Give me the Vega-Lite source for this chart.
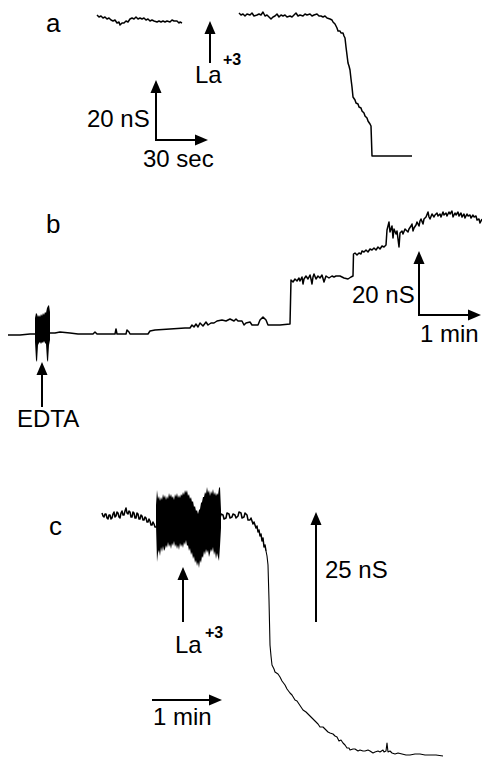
{
  "$schema": "https://vega.github.io/schema/vega-lite/v6.json",
  "width": 482,
  "height": 757,
  "autosize": "none",
  "padding": 0,
  "background": "white",
  "config": {"view": {"stroke": null}},
  "datasets": {
    "trace": [
      {"s":"a1","x":97,"y":15},{"s":"a1","x":99,"y":17},{"s":"a1","x":101,"y":16},{"s":"a1","x":103,"y":18},{"s":"a1","x":105,"y":17},{"s":"a1","x":107,"y":19},{"s":"a1","x":109,"y":18},{"s":"a1","x":111,"y":20},{"s":"a1","x":113,"y":21},{"s":"a1","x":115,"y":20},{"s":"a1","x":117,"y":23},{"s":"a1","x":119,"y":22},{"s":"a1","x":120,"y":25},{"s":"a1","x":122,"y":23},{"s":"a1","x":124,"y":23},{"s":"a1","x":126,"y":21},{"s":"a1","x":128,"y":22},{"s":"a1","x":130,"y":19},{"s":"a1","x":132,"y":18},{"s":"a1","x":134,"y":19},{"s":"a1","x":136,"y":17},{"s":"a1","x":138,"y":19},{"s":"a1","x":140,"y":18},{"s":"a1","x":142,"y":19},{"s":"a1","x":144,"y":18},{"s":"a1","x":146,"y":20},{"s":"a1","x":148,"y":19},{"s":"a1","x":150,"y":21},{"s":"a1","x":152,"y":20},{"s":"a1","x":154,"y":21},{"s":"a1","x":157,"y":22},{"s":"a1","x":159,"y":21},{"s":"a1","x":161,"y":22},{"s":"a1","x":163,"y":21},{"s":"a1","x":165,"y":22},{"s":"a1","x":167,"y":21},{"s":"a1","x":170,"y":22},{"s":"a1","x":172,"y":20},{"s":"a1","x":174,"y":21},{"s":"a1","x":177,"y":21},{"s":"a1","x":179,"y":23},{"s":"a1","x":180,"y":22},{"s":"a1","x":182,"y":23},
      {"s":"a2","x":239,"y":13},{"s":"a2","x":241,"y":15},{"s":"a2","x":243,"y":14},{"s":"a2","x":245,"y":16},{"s":"a2","x":247,"y":14},{"s":"a2","x":250,"y":15},{"s":"a2","x":252,"y":13},{"s":"a2","x":254,"y":16},{"s":"a2","x":257,"y":15},{"s":"a2","x":259,"y":14},{"s":"a2","x":261,"y":15},{"s":"a2","x":263,"y":12},{"s":"a2","x":265,"y":16},{"s":"a2","x":267,"y":15},{"s":"a2","x":269,"y":17},{"s":"a2","x":271,"y":19},{"s":"a2","x":273,"y":17},{"s":"a2","x":275,"y":16},{"s":"a2","x":277,"y":14},{"s":"a2","x":279,"y":17},{"s":"a2","x":281,"y":15},{"s":"a2","x":283,"y":16},{"s":"a2","x":285,"y":15},{"s":"a2","x":287,"y":17},{"s":"a2","x":290,"y":16},{"s":"a2","x":292,"y":17},{"s":"a2","x":294,"y":15},{"s":"a2","x":296,"y":13},{"s":"a2","x":298,"y":16},{"s":"a2","x":300,"y":15},{"s":"a2","x":303,"y":16},{"s":"a2","x":305,"y":14},{"s":"a2","x":307,"y":15},{"s":"a2","x":310,"y":14},{"s":"a2","x":312,"y":16},{"s":"a2","x":314,"y":15},{"s":"a2","x":317,"y":14},{"s":"a2","x":319,"y":16},{"s":"a2","x":321,"y":16},{"s":"a2","x":323,"y":17},{"s":"a2","x":325,"y":16},{"s":"a2","x":327,"y":18},{"s":"a2","x":330,"y":19},{"s":"a2","x":332,"y":20},{"s":"a2","x":333,"y":22},{"s":"a2","x":335,"y":24},{"s":"a2","x":337,"y":28},{"s":"a2","x":338,"y":31},{"s":"a2","x":340,"y":31},{"s":"a2","x":341,"y":33},{"s":"a2","x":343,"y":33},{"s":"a2","x":344,"y":36},{"s":"a2","x":345,"y":38},{"s":"a2","x":346,"y":47},{"s":"a2","x":347,"y":55},{"s":"a2","x":348,"y":63},{"s":"a2","x":349,"y":66},{"s":"a2","x":350,"y":70},{"s":"a2","x":351,"y":79},{"s":"a2","x":352,"y":87},{"s":"a2","x":353,"y":97},{"s":"a2","x":355,"y":100},{"s":"a2","x":356,"y":103},{"s":"a2","x":358,"y":104},{"s":"a2","x":359,"y":107},{"s":"a2","x":361,"y":108},{"s":"a2","x":362,"y":111},{"s":"a2","x":364,"y":113},{"s":"a2","x":365,"y":116},{"s":"a2","x":367,"y":118},{"s":"a2","x":368,"y":121},{"s":"a2","x":370,"y":124},{"s":"a2","x":371,"y":126},{"s":"a2","x":372,"y":156},{"s":"a2","x":390,"y":156},{"s":"a2","x":412,"y":156},
      {"s":"b","x":8,"y":335},{"s":"b","x":20,"y":335},{"s":"b","x":30,"y":334},{"s":"b","x":35,"y":334},{"s":"b","x":50,"y":333},{"s":"b","x":55,"y":333},{"s":"b","x":60,"y":332},{"s":"b","x":70,"y":333},{"s":"b","x":78,"y":334},{"s":"b","x":93,"y":334},{"s":"b","x":95,"y":332},{"s":"b","x":97,"y":334},{"s":"b","x":110,"y":334},{"s":"b","x":115,"y":334},{"s":"b","x":116,"y":329},{"s":"b","x":117,"y":334},{"s":"b","x":126,"y":334},{"s":"b","x":127,"y":330},{"s":"b","x":129,"y":332},{"s":"b","x":130,"y":334},{"s":"b","x":148,"y":334},{"s":"b","x":150,"y":331},{"s":"b","x":155,"y":330},{"s":"b","x":170,"y":329},{"s":"b","x":185,"y":328},{"s":"b","x":190,"y":328},{"s":"b","x":192,"y":325},{"s":"b","x":194,"y":327},{"s":"b","x":196,"y":324},{"s":"b","x":198,"y":327},{"s":"b","x":200,"y":323},{"s":"b","x":203,"y":326},{"s":"b","x":206,"y":322},{"s":"b","x":208,"y":325},{"s":"b","x":211,"y":323},{"s":"b","x":214,"y":323},{"s":"b","x":217,"y":321},{"s":"b","x":222,"y":320},{"s":"b","x":226,"y":321},{"s":"b","x":230,"y":319},{"s":"b","x":234,"y":321},{"s":"b","x":236,"y":319},{"s":"b","x":238,"y":321},{"s":"b","x":242,"y":321},{"s":"b","x":244,"y":325},{"s":"b","x":246,"y":323},{"s":"b","x":250,"y":322},{"s":"b","x":252,"y":325},{"s":"b","x":258,"y":325},{"s":"b","x":260,"y":320},{"s":"b","x":263,"y":317},{"s":"b","x":266,"y":320},{"s":"b","x":268,"y":325},{"s":"b","x":280,"y":325},{"s":"b","x":290,"y":324},{"s":"b","x":291,"y":280},{"s":"b","x":293,"y":282},{"s":"b","x":295,"y":279},{"s":"b","x":297,"y":281},{"s":"b","x":299,"y":278},{"s":"b","x":300,"y":281},{"s":"b","x":302,"y":277},{"s":"b","x":303,"y":284},{"s":"b","x":304,"y":279},{"s":"b","x":306,"y":276},{"s":"b","x":308,"y":279},{"s":"b","x":310,"y":275},{"s":"b","x":311,"y":279},{"s":"b","x":312,"y":284},{"s":"b","x":313,"y":277},{"s":"b","x":314,"y":274},{"s":"b","x":316,"y":279},{"s":"b","x":318,"y":276},{"s":"b","x":320,"y":278},{"s":"b","x":322,"y":275},{"s":"b","x":324,"y":282},{"s":"b","x":326,"y":276},{"s":"b","x":329,"y":278},{"s":"b","x":332,"y":276},{"s":"b","x":334,"y":277},{"s":"b","x":336,"y":276},{"s":"b","x":340,"y":276},{"s":"b","x":344,"y":278},{"s":"b","x":348,"y":279},{"s":"b","x":351,"y":277},{"s":"b","x":353,"y":276},{"s":"b","x":353.5,"y":254},{"s":"b","x":355,"y":253},{"s":"b","x":357,"y":255},{"s":"b","x":359,"y":253},{"s":"b","x":361,"y":254},{"s":"b","x":362,"y":251},{"s":"b","x":364,"y":252},{"s":"b","x":366,"y":250},{"s":"b","x":368,"y":252},{"s":"b","x":370,"y":249},{"s":"b","x":372,"y":250},{"s":"b","x":374,"y":248},{"s":"b","x":376,"y":250},{"s":"b","x":378,"y":247},{"s":"b","x":380,"y":249},{"s":"b","x":382,"y":246},{"s":"b","x":384,"y":247},{"s":"b","x":386,"y":245},{"s":"b","x":387,"y":230},{"s":"b","x":389,"y":222},{"s":"b","x":390,"y":232},{"s":"b","x":392,"y":226},{"s":"b","x":393,"y":238},{"s":"b","x":394,"y":229},{"s":"b","x":396,"y":234},{"s":"b","x":397,"y":231},{"s":"b","x":399,"y":247},{"s":"b","x":400,"y":233},{"s":"b","x":402,"y":231},{"s":"b","x":403,"y":234},{"s":"b","x":405,"y":229},{"s":"b","x":406,"y":230},{"s":"b","x":408,"y":232},{"s":"b","x":409,"y":229},{"s":"b","x":411,"y":226},{"s":"b","x":412,"y":224},{"s":"b","x":413,"y":231},{"s":"b","x":414,"y":228},{"s":"b","x":416,"y":225},{"s":"b","x":417,"y":222},{"s":"b","x":419,"y":226},{"s":"b","x":420,"y":221},{"s":"b","x":421,"y":219},{"s":"b","x":423,"y":224},{"s":"b","x":424,"y":219},{"s":"b","x":426,"y":217},{"s":"b","x":428,"y":212},{"s":"b","x":429,"y":217},{"s":"b","x":430,"y":219},{"s":"b","x":432,"y":214},{"s":"b","x":434,"y":217},{"s":"b","x":435,"y":215},{"s":"b","x":437,"y":213},{"s":"b","x":438,"y":216},{"s":"b","x":440,"y":214},{"s":"b","x":441,"y":217},{"s":"b","x":443,"y":212},{"s":"b","x":444,"y":215},{"s":"b","x":446,"y":213},{"s":"b","x":447,"y":216},{"s":"b","x":449,"y":212},{"s":"b","x":450,"y":214},{"s":"b","x":452,"y":211},{"s":"b","x":453,"y":217},{"s":"b","x":455,"y":213},{"s":"b","x":456,"y":215},{"s":"b","x":458,"y":212},{"s":"b","x":459,"y":216},{"s":"b","x":461,"y":213},{"s":"b","x":462,"y":217},{"s":"b","x":464,"y":214},{"s":"b","x":465,"y":218},{"s":"b","x":467,"y":214},{"s":"b","x":468,"y":216},{"s":"b","x":470,"y":215},{"s":"b","x":471,"y":218},{"s":"b","x":473,"y":215},{"s":"b","x":474,"y":217},{"s":"b","x":476,"y":216},{"s":"b","x":477,"y":220},{"s":"b","x":479,"y":219},{"s":"b","x":480,"y":223},{"s":"b","x":482,"y":219},
      {"s":"c1","x":102,"y":513},{"s":"c1","x":103,"y":516},{"s":"c1","x":104,"y":517},{"s":"c1","x":105,"y":514},{"s":"c1","x":106,"y":514},{"s":"c1","x":107,"y":518},{"s":"c1","x":108,"y":519},{"s":"c1","x":109,"y":515},{"s":"c1","x":110,"y":515},{"s":"c1","x":111,"y":519},{"s":"c1","x":112,"y":518},{"s":"c1","x":113,"y":514},{"s":"c1","x":114,"y":512},{"s":"c1","x":115,"y":517},{"s":"c1","x":116,"y":516},{"s":"c1","x":117,"y":512},{"s":"c1","x":118,"y":513},{"s":"c1","x":119,"y":517},{"s":"c1","x":120,"y":518},{"s":"c1","x":121,"y":513},{"s":"c1","x":122,"y":511},{"s":"c1","x":123,"y":515},{"s":"c1","x":124,"y":515},{"s":"c1","x":125,"y":511},{"s":"c1","x":126,"y":508},{"s":"c1","x":127,"y":513},{"s":"c1","x":128,"y":514},{"s":"c1","x":129,"y":511},{"s":"c1","x":130,"y":512},{"s":"c1","x":131,"y":517},{"s":"c1","x":132,"y":517},{"s":"c1","x":133,"y":512},{"s":"c1","x":134,"y":513},{"s":"c1","x":135,"y":518},{"s":"c1","x":136,"y":518},{"s":"c1","x":137,"y":513},{"s":"c1","x":138,"y":514},{"s":"c1","x":139,"y":519},{"s":"c1","x":140,"y":519},{"s":"c1","x":141,"y":515},{"s":"c1","x":142,"y":516},{"s":"c1","x":143,"y":520},{"s":"c1","x":144,"y":520},{"s":"c1","x":145,"y":517},{"s":"c1","x":146,"y":518},{"s":"c1","x":147,"y":522},{"s":"c1","x":148,"y":522},{"s":"c1","x":149,"y":519},{"s":"c1","x":150,"y":521},{"s":"c1","x":151,"y":525},{"s":"c1","x":152,"y":525},{"s":"c1","x":153,"y":522},{"s":"c1","x":154,"y":524},{"s":"c1","x":155,"y":527},{"s":"c1","x":157,"y":527},
      {"s":"c2","x":220,"y":518},{"s":"c2","x":221,"y":514},{"s":"c2","x":223,"y":515},{"s":"c2","x":224,"y":519},{"s":"c2","x":226,"y":518},{"s":"c2","x":227,"y":513},{"s":"c2","x":229,"y":514},{"s":"c2","x":230,"y":518},{"s":"c2","x":232,"y":517},{"s":"c2","x":233,"y":514},{"s":"c2","x":235,"y":515},{"s":"c2","x":236,"y":518},{"s":"c2","x":238,"y":516},{"s":"c2","x":239,"y":512},{"s":"c2","x":241,"y":513},{"s":"c2","x":242,"y":518},{"s":"c2","x":244,"y":517},{"s":"c2","x":245,"y":513},{"s":"c2","x":247,"y":515},{"s":"c2","x":248,"y":520},{"s":"c2","x":250,"y":520},{"s":"c2","x":251,"y":518},{"s":"c2","x":253,"y":524},{"s":"c2","x":254,"y":522},{"s":"c2","x":256,"y":528},{"s":"c2","x":257,"y":526},{"s":"c2","x":258,"y":532},{"s":"c2","x":259,"y":530},{"s":"c2","x":260,"y":536},{"s":"c2","x":261,"y":534},{"s":"c2","x":262,"y":541},{"s":"c2","x":263,"y":538},{"s":"c2","x":264,"y":547},{"s":"c2","x":265,"y":545},{"s":"c2","x":266,"y":551}
    ],
    "tail": [
      {"x":266,"y":551},{"x":267,"y":556},{"x":268,"y":565},{"x":269,"y":600},{"x":270,"y":645},{"x":271,"y":656},{"x":272,"y":665},{"x":274,"y":669},{"x":275,"y":672},{"x":278,"y":674},{"x":280,"y":677},{"x":282,"y":681},{"x":285,"y":685},{"x":287,"y":689},{"x":290,"y":693},{"x":292,"y":695},{"x":295,"y":700},{"x":297,"y":701},{"x":299,"y":704},{"x":301,"y":707},{"x":303,"y":710},{"x":306,"y":712},{"x":310,"y":716},{"x":312,"y":718},{"x":315,"y":721},{"x":318,"y":724},{"x":320,"y":727},{"x":323,"y":727},{"x":325,"y":729},{"x":328,"y":732},{"x":330,"y":733},{"x":333,"y":734},{"x":335,"y":736},{"x":337,"y":737},{"x":339,"y":741},{"x":341,"y":740},{"x":343,"y":743},{"x":345,"y":745},{"x":347,"y":748},{"x":349,"y":748},{"x":350,"y":750},{"x":353,"y":749},{"x":355,"y":749},{"x":358,"y":751},{"x":360,"y":750},{"x":363,"y":751},{"x":365,"y":751},{"x":368,"y":750},{"x":370,"y":751},{"x":373,"y":753},{"x":375,"y":752},{"x":378,"y":751},{"x":380,"y":752},{"x":383,"y":750},{"x":384,"y":752},{"x":386,"y":751},{"x":387,"y":743},{"x":388,"y":752},{"x":390,"y":751},{"x":392,"y":753},{"x":395,"y":754},{"x":398,"y":753},{"x":402,"y":754},{"x":406,"y":755},{"x":410,"y":755},{"x":415,"y":754},{"x":420,"y":754},{"x":425,"y":755},{"x":430,"y":755},{"x":436,"y":755},{"x":443,"y":756}
    ],
    "burst": [
      {"id":"b","x":35,"top":318,"bot":342},{"id":"b","x":36,"top":313,"bot":360},{"id":"b","x":37,"top":314,"bot":362},{"id":"b","x":38,"top":317,"bot":345},{"id":"b","x":39,"top":315,"bot":343},{"id":"b","x":40,"top":317,"bot":342},{"id":"b","x":41,"top":314,"bot":344},{"id":"b","x":42,"top":316,"bot":342},{"id":"b","x":43,"top":313,"bot":343},{"id":"b","x":44,"top":315,"bot":341},{"id":"b","x":45,"top":312,"bot":343},{"id":"b","x":46,"top":313,"bot":344},{"id":"b","x":47,"top":308,"bot":360},{"id":"b","x":48,"top":306,"bot":362},{"id":"b","x":49,"top":305,"bot":345},{"id":"b","x":50,"top":312,"bot":340},
      {"id":"c","x":156,"top":505,"bot":525},{"id":"c","x":157,"top":490,"bot":562},{"id":"c","x":158,"top":499,"bot":553},{"id":"c","x":159,"top":496,"bot":550},{"id":"c","x":160,"top":501,"bot":556},{"id":"c","x":161,"top":497,"bot":547},{"id":"c","x":162,"top":500,"bot":552},{"id":"c","x":163,"top":494,"bot":546},{"id":"c","x":164,"top":498,"bot":551},{"id":"c","x":165,"top":495,"bot":549},{"id":"c","x":166,"top":500,"bot":545},{"id":"c","x":167,"top":496,"bot":548},{"id":"c","x":168,"top":499,"bot":542},{"id":"c","x":169,"top":493,"bot":547},{"id":"c","x":170,"top":497,"bot":544},{"id":"c","x":171,"top":494,"bot":549},{"id":"c","x":172,"top":498,"bot":543},{"id":"c","x":173,"top":496,"bot":546},{"id":"c","x":174,"top":500,"bot":541},{"id":"c","x":175,"top":494,"bot":547},{"id":"c","x":176,"top":497,"bot":544},{"id":"c","x":177,"top":493,"bot":549},{"id":"c","x":178,"top":498,"bot":545},{"id":"c","x":179,"top":495,"bot":550},{"id":"c","x":180,"top":498,"bot":543},{"id":"c","x":181,"top":494,"bot":547},{"id":"c","x":182,"top":496,"bot":544},{"id":"c","x":183,"top":492,"bot":548},{"id":"c","x":184,"top":495,"bot":542},{"id":"c","x":185,"top":490,"bot":545},{"id":"c","x":186,"top":493,"bot":540},{"id":"c","x":187,"top":490,"bot":546},{"id":"c","x":188,"top":496,"bot":545},{"id":"c","x":189,"top":494,"bot":551},{"id":"c","x":190,"top":499,"bot":548},{"id":"c","x":191,"top":497,"bot":555},{"id":"c","x":192,"top":502,"bot":552},{"id":"c","x":193,"top":501,"bot":559},{"id":"c","x":194,"top":507,"bot":556},{"id":"c","x":195,"top":506,"bot":563},{"id":"c","x":196,"top":511,"bot":560},{"id":"c","x":197,"top":510,"bot":566},{"id":"c","x":198,"top":514,"bot":562},{"id":"c","x":199,"top":510,"bot":568},{"id":"c","x":200,"top":509,"bot":560},{"id":"c","x":201,"top":503,"bot":563},{"id":"c","x":202,"top":502,"bot":556},{"id":"c","x":203,"top":497,"bot":558},{"id":"c","x":204,"top":497,"bot":551},{"id":"c","x":205,"top":492,"bot":555},{"id":"c","x":206,"top":494,"bot":549},{"id":"c","x":207,"top":487,"bot":553},{"id":"c","x":208,"top":493,"bot":550},{"id":"c","x":209,"top":490,"bot":557},{"id":"c","x":210,"top":496,"bot":553},{"id":"c","x":211,"top":491,"bot":549},{"id":"c","x":212,"top":494,"bot":552},{"id":"c","x":213,"top":489,"bot":547},{"id":"c","x":214,"top":495,"bot":555},{"id":"c","x":215,"top":492,"bot":551},{"id":"c","x":216,"top":496,"bot":559},{"id":"c","x":217,"top":493,"bot":553},{"id":"c","x":218,"top":495,"bot":557},{"id":"c","x":219,"top":488,"bot":561},{"id":"c","x":220,"top":487,"bot":546},{"id":"c","x":221,"top":510,"bot":528}
    ],
    "shafts": [
      {"x":210,"y":63,"x2":210,"y2":30},
      {"x":156,"y":141,"x2":156,"y2":88},
      {"x":155,"y":140,"x2":199,"y2":140},
      {"x":419,"y":316,"x2":419,"y2":260},
      {"x":418,"y":315,"x2":472,"y2":315},
      {"x":42,"y":407,"x2":42,"y2":370},
      {"x":183,"y":622,"x2":183,"y2":576},
      {"x":316,"y":622,"x2":316,"y2":521},
      {"x":152,"y":700,"x2":213,"y2":700}
    ],
    "heads": [
      {"dir":"up","x":210,"y":21},
      {"dir":"up","x":156,"y":80},
      {"dir":"right","x":208,"y":140},
      {"dir":"up","x":419,"y":251},
      {"dir":"right","x":481,"y":315},
      {"dir":"up","x":42,"y":362},
      {"dir":"up","x":183,"y":567},
      {"dir":"up","x":316,"y":512},
      {"dir":"right","x":222,"y":700}
    ],
    "labels": [
      {"t":"20 nS","x":87,"y":127},
      {"t":"30 sec","x":143,"y":167},
      {"t":"La","x":195,"y":83},
      {"t":"20 nS","x":352,"y":303},
      {"t":"1 min","x":420,"y":342},
      {"t":"EDTA","x":17,"y":427},
      {"t":"La","x":175,"y":653},
      {"t":"25 nS","x":325,"y":578},
      {"t":"1 min","x":153,"y":725}
    ],
    "sup": [
      {"t":"+3","x":223,"y":65},
      {"t":"+3","x":205,"y":638}
    ],
    "panels": [
      {"t":"a","x":46,"y":32},
      {"t":"b","x":46,"y":233},
      {"t":"c","x":49,"y":535}
    ]
  },
  "encoding": {
    "x": {"field":"x","type":"quantitative","scale":{"domain":[0,482],"nice":false,"zero":false},"axis":null},
    "y": {"field":"y","type":"quantitative","scale":{"domain":[0,757],"reverse":true,"nice":false,"zero":false},"axis":null}
  },
  "layer": [
    {
      "data": {"name":"burst"},
      "mark": {"type":"area","color":"black","opacity":1,"interpolate":"linear"},
      "encoding": {
        "y": {"field":"top","type":"quantitative","scale":{"domain":[0,757],"reverse":true,"nice":false,"zero":false},"axis":null},
        "y2": {"field":"bot"},
        "detail": {"field":"id"}
      }
    },
    {
      "data": {"name":"trace"},
      "mark": {"type":"line","color":"black","strokeWidth":1.5,"strokeJoin":"round"},
      "encoding": {"detail": {"field":"s"}}
    },
    {
      "data": {"name":"tail"},
      "mark": {"type":"line","color":"black","strokeWidth":1.1,"strokeJoin":"round"},
      "encoding": {}
    },
    {
      "data": {"name":"shafts"},
      "mark": {"type":"rule","color":"black","strokeWidth":2},
      "encoding": {"x2":{"field":"x2"},"y2":{"field":"y2"}}
    },
    {
      "data": {"name":"heads"},
      "transform": [{"filter":"datum.dir === 'up'"}],
      "mark": {"type":"point","filled":true,"color":"black","opacity":1,"size":169,"strokeWidth":0,"shape":"M-0.85,2L0,0L0.85,2Z"}
    },
    {
      "data": {"name":"heads"},
      "transform": [{"filter":"datum.dir === 'right'"}],
      "mark": {"type":"point","filled":true,"color":"black","opacity":1,"size":169,"strokeWidth":0,"shape":"M-2,-0.85L0,0L-2,0.85Z"}
    },
    {
      "data": {"name":"labels"},
      "mark": {"type":"text","align":"left","baseline":"alphabetic","font":"Liberation Sans","fontSize":24,"color":"black"},
      "encoding": {"text":{"field":"t"}}
    },
    {
      "data": {"name":"sup"},
      "mark": {"type":"text","align":"left","baseline":"alphabetic","font":"Liberation Sans","fontSize":16,"fontWeight":"bold","color":"black"},
      "encoding": {"text":{"field":"t"}}
    },
    {
      "data": {"name":"panels"},
      "mark": {"type":"text","align":"left","baseline":"alphabetic","font":"Liberation Sans","fontSize":26,"color":"black"},
      "encoding": {"text":{"field":"t"}}
    }
  ]
}
